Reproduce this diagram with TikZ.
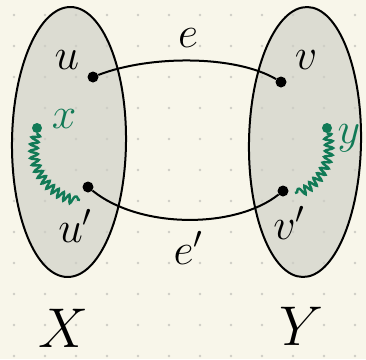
\RequirePackage{fix-cm}
\documentclass[tikz,border=0pt]{standalone}
\usetikzlibrary{decorations.pathmorphing}
\definecolor{bg}{HTML}{F8F6EA}
\definecolor{setfill}{HTML}{DCDCD2}
\definecolor{gridc}{HTML}{CDCDC5}
\definecolor{grn}{HTML}{117A56}
\begin{document}
\begin{tikzpicture}[x=1pt,y=-1pt,
  vtx/.style={circle,fill=black,inner sep=0pt,minimum size=11pt},
  gvtx/.style={circle,fill=grn,inner sep=0pt,minimum size=10pt},
  lbl/.style={inner sep=0pt,font=\fontsize{44}{44}\selectfont},
  glbl/.style={lbl,text=grn},
  setlbl/.style={inner sep=0pt,font=\fontsize{56}{56}\selectfont},
  edgeline/.style={line width=2pt},
  coil/.style={grn,line width=2.4pt,decorate,decoration={snake,segment length=6.5pt,amplitude=4pt}},
  setline/.style={draw=black,line width=2pt}]
\fill[bg] (0,0) rectangle (366,359);
\useasboundingbox (0,0) rectangle (366,359);
% set fills
\fill[setfill,rotate around={-0.7:(69,142)}] (69,142) ellipse [x radius=57, y radius=135];
\fill[setfill,rotate around={-1:(305,142)}] (305,142) ellipse [x radius=56, y radius=135];
% dot grid
\foreach \i in {0,...,11}
  \foreach \j in {0,...,11}
    \fill[gridc] (14+31*\i, 15+31*\j) circle[radius=1.4];
% set outlines
\draw[setline,rotate around={-0.7:(69,142)}] (69,142) ellipse [x radius=57, y radius=135];
\draw[setline,rotate around={-1:(305,142)}] (305,142) ellipse [x radius=56, y radius=135];
% vertices
\node[vtx] (u) at (93,77) {};
\node[vtx] (v) at (281,82) {};
\node[vtx] (up) at (88,187) {};
\node[vtx] (vp) at (283,191) {};
\node[gvtx] (x) at (37,128) {};
\node[gvtx] (y) at (327,128) {};
\coordinate (xend) at (80,200);
\coordinate (yend) at (295,193);
% edges
\draw[edgeline] (u) .. controls (150,55) and (235,55) .. (v);
\draw[edgeline] (up) .. controls (140,229) and (235,229) .. (vp);
% coils
\draw[coil] (x.south) .. controls (26,165) and (50,195) .. (xend);
\draw[coil] (y.south) .. controls (334,160) and (318,185) .. (yend);
% labels
\node[lbl] (lu) at (67,60) {$u$};
\node[lbl] (lv) at (306,60) {$v$};
\node[lbl] (lup) at (75,226) {$u'$};
\node[lbl] (lvp) at (289,223) {$v'$};
\node[lbl] (le) at (188,38) {$e$};
\node[lbl] (lep) at (188,248) {$e'$};
\node[glbl] (lx) at (64,119) {$x$};
\node[glbl] (ly) at (349,138) {$y$};
\node[setlbl] (lX) at (63,328) {$X$};
\node[setlbl] (lY) at (301,326) {$Y$};
\end{tikzpicture}
\end{document}
